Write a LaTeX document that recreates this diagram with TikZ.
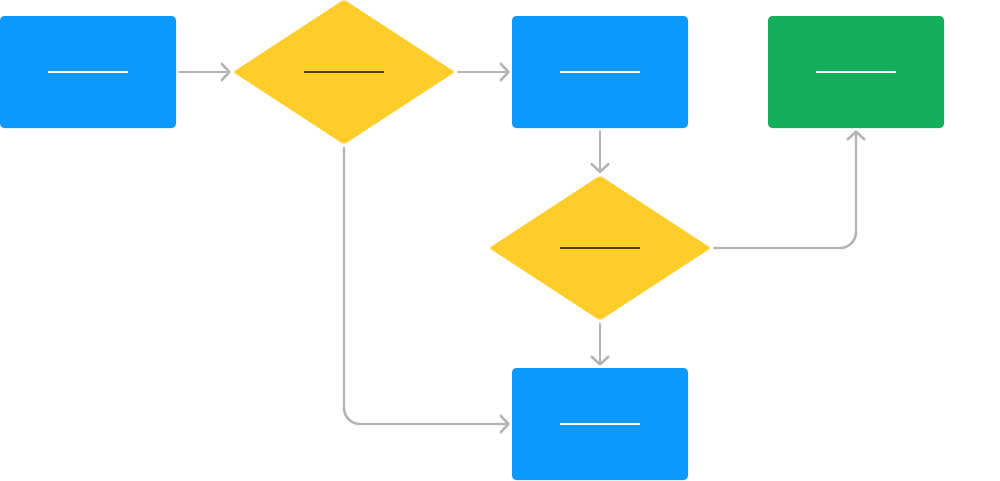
\documentclass[tikz,border=0pt]{standalone}
\usetikzlibrary{shapes.geometric,arrows.meta}
\definecolor{cardblue}{HTML}{0D99FF}
\definecolor{askyellow}{HTML}{FFCD29}
\definecolor{donegreen}{HTML}{14AE5C}
\definecolor{linkgray}{HTML}{B3B3B3}
\definecolor{markbrown}{HTML}{4D3E10}
\newcommand{\placeline}[1]{\textcolor{#1}{\rule[-0.02cm]{1.6cm}{0.035cm}}}
\tikzset{
  card/.style={rectangle, rounded corners=2.3pt, minimum width=3.52cm,
    minimum height=2.24cm, inner sep=0pt},
  decision/.style={diamond, fill=askyellow, rounded corners=1.5pt,
    minimum width=4.44cm, minimum height=2.9cm, inner sep=0pt},
  link/.style={draw=linkgray, line width=1.4pt, line cap=round,
    -{Straight Barb[length=0.16cm,width=0.34cm,round]},
    shorten <=0.06cm, shorten >=0.04cm, rounded corners=0.32cm},
}
\begin{document}
\begin{tikzpicture}
\useasboundingbox (0,0) rectangle (20,-9.6);
% steps
\node[card, fill=cardblue] (start) at (1.76,-1.44) {\placeline{white}};
\node[decision] (askone) at (6.88,-1.44) {\placeline{markbrown}};
\node[card, fill=cardblue] (middle) at (12,-1.44) {\placeline{white}};
\node[card, fill=donegreen] (finish) at (17.12,-1.44) {\placeline{white}};
\node[decision] (asktwo) at (12,-4.96) {\placeline{markbrown}};
\node[card, fill=cardblue] (lower) at (12,-8.48) {\placeline{white}};
% links
\draw[link] (start) -- (askone);
\draw[link] (askone) -- (middle);
\draw[link] (middle) -- (asktwo);
\draw[link] (asktwo) -- (lower);
\draw[link] (asktwo.east) -| (finish.south);
\draw[link] (askone.south) |- (lower.west);
\end{tikzpicture}
\end{document}
